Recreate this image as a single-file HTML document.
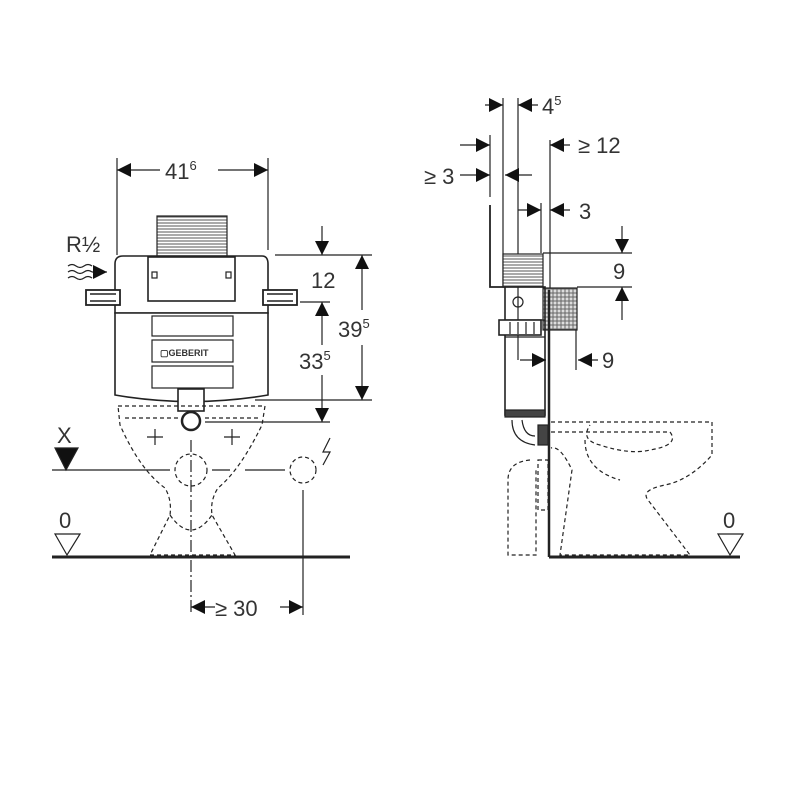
<!DOCTYPE html>
<html><head><meta charset="utf-8"><style>
body{margin:0;background:#fff}
svg{display:block}
text{font-family:"Liberation Sans",sans-serif;fill:#333;font-size:22px}
.s{font-size:13px}
</style></head><body>
<svg width="800" height="800" viewBox="0 0 800 800" xmlns="http://www.w3.org/2000/svg">
<defs>
<marker id="a" viewBox="0 0 10 10" refX="10" refY="5" markerWidth="16" markerHeight="14" markerUnits="userSpaceOnUse" orient="auto"><path d="M0,0L10,5L0,10z" fill="#111"/></marker>
<pattern id="h" width="4" height="3" patternUnits="userSpaceOnUse"><rect width="4" height="3" fill="#fff"/><line x1="0" y1="1" x2="4" y2="1" stroke="#555" stroke-width="1"/></pattern>
<pattern id="x" width="4" height="4" patternUnits="userSpaceOnUse"><rect width="4" height="4" fill="#ddd"/><path d="M0,1H4M1,0V4" stroke="#666" stroke-width="1"/></pattern>
</defs>
<g fill="none" stroke="#222" stroke-width="1.2">
<line x1="117" y1="158" x2="117" y2="255"/><line x1="268" y1="158" x2="268" y2="250"/>
<line x1="160" y1="170" x2="117" y2="170" marker-end="url(#a)"/><line x1="218" y1="170" x2="268" y2="170" marker-end="url(#a)"/>
<rect x="157" y="216" width="70" height="40" fill="url(#h)"/>
<path d="M123,256H262Q268,256 268,264V313H115V264Q115,256 123,256Z" fill="#fff" stroke-width="1.6"/>
<rect x="148" y="257" width="87" height="44" fill="#fff" stroke-width="1.6"/>
<rect x="152" y="272" width="5" height="6"/><rect x="226" y="272" width="5" height="6"/>
<rect x="86" y="290" width="34" height="15" fill="#fff" stroke-width="1.8"/><rect x="263" y="290" width="34" height="15" fill="#fff" stroke-width="1.8"/>
<path d="M90,294H116M90,301H116M267,294H293M267,301H293" stroke-width="1.6"/>
<path d="M115,313H268V395Q191,408 115,395Z" fill="#fff" stroke-width="1.6"/>
<rect x="152" y="316" width="81" height="20"/><rect x="152" y="340" width="81" height="22"/><rect x="152" y="366" width="81" height="22"/>
<rect x="178" y="389" width="26" height="22" fill="#fff" stroke-width="1.6"/>
<circle cx="191" cy="421" r="9" stroke-width="2.5"/>
<line x1="275" y1="255" x2="372" y2="255"/><line x1="300" y1="302" x2="330" y2="302"/>
<line x1="255" y1="400" x2="372" y2="400"/><line x1="205" y1="422" x2="330" y2="422"/>
<line x1="322" y1="226" x2="322" y2="255" marker-end="url(#a)"/>
<line x1="322" y1="345" x2="322" y2="302" marker-end="url(#a)"/>
<line x1="322" y1="375" x2="322" y2="422" marker-end="url(#a)"/>
<line x1="362" y1="310" x2="362" y2="255" marker-end="url(#a)"/>
<line x1="362" y1="345" x2="362" y2="400" marker-end="url(#a)"/>
<g stroke-dasharray="4,3">
<path d="M118,406H265L262,425Q240,470 218,488Q210,500 212,515L235,555H150L170,515Q172,500 165,488Q140,470 120,425Z"/>
<path d="M125,418H180M205,418H258"/>
<path d="M170,515Q191,545 212,515"/>
<circle cx="191" cy="470" r="16"/>
<circle cx="303" cy="470" r="13"/>
</g>
<path d="M147,437H163M155,429V445M224,437H240M232,429V445"/>
<line x1="52" y1="470" x2="170" y2="470"/><line x1="212" y1="470" x2="230" y2="470"/><line x1="245" y1="470" x2="285" y2="470"/>
<line x1="191" y1="440" x2="191" y2="615" stroke-dasharray="12,3,2,3"/>
<line x1="303" y1="490" x2="303" y2="615"/>
<path d="M330,438L323,452H330L323,465" />
<line x1="215" y1="607" x2="191" y2="607" marker-end="url(#a)"/><line x1="280" y1="607" x2="303" y2="607" marker-end="url(#a)"/>
<line x1="52" y1="557" x2="350" y2="557" stroke-width="3"/>
<path d="M55,534H80L67,555Z"/>
<path d="M55,448H78L66,470Z" fill="#111"/>
<path d="M68,266q4,-3 8,0t8,0t8,0M68,272q4,-3 8,0t8,0t8,0M68,278q4,-3 8,0t8,0t8,0"/>
<line x1="92" y1="272" x2="107" y2="272" marker-end="url(#a)"/>
<line x1="503" y1="98" x2="503" y2="287"/><line x1="518" y1="98" x2="518" y2="360"/>
<line x1="485" y1="105" x2="503" y2="105" marker-end="url(#a)"/><line x1="538" y1="105" x2="518" y2="105" marker-end="url(#a)"/>
<line x1="490" y1="135" x2="490" y2="197"/>
<line x1="460" y1="145" x2="490" y2="145" marker-end="url(#a)"/><line x1="460" y1="175" x2="490" y2="175" marker-end="url(#a)"/>
<line x1="532" y1="175" x2="505" y2="175" marker-end="url(#a)"/>
<path d="M490,205V287H505" stroke-width="1.8"/>
<line x1="550" y1="140" x2="550" y2="290"/>
<line x1="570" y1="145" x2="550" y2="145" marker-end="url(#a)"/>
<line x1="541" y1="203" x2="541" y2="253"/>
<line x1="518" y1="210" x2="541" y2="210" marker-end="url(#a)"/><line x1="570" y1="210" x2="550" y2="210" marker-end="url(#a)"/>
<rect x="503" y="254" width="40" height="33" fill="url(#h)"/>
<rect x="543" y="288" width="34" height="42" fill="url(#x)"/>
<rect x="505" y="287" width="40" height="128" fill="none" stroke-width="1.6"/>
<line x1="505" y1="320" x2="545" y2="320"/><line x1="505" y1="337" x2="545" y2="337"/>
<rect x="499" y="320" width="42" height="15" fill="#fff" stroke-width="1.6"/><path d="M510,322V334M518,322V334M526,322V334M534,322V334"/>
<circle cx="518" cy="302" r="5"/>
<rect x="505" y="410" width="40" height="7" fill="#444"/>
<path d="M512,420Q512,442 535,445M522,420Q524,436 535,436"/>
<rect x="538" y="425" width="10" height="20" fill="#444"/>
<line x1="543" y1="253" x2="632" y2="253"/><line x1="577" y1="287" x2="632" y2="287"/>
<line x1="622" y1="226" x2="622" y2="253" marker-end="url(#a)"/><line x1="622" y1="320" x2="622" y2="287" marker-end="url(#a)"/>
<line x1="576" y1="330" x2="576" y2="370"/>
<line x1="598" y1="360" x2="578" y2="360" marker-end="url(#a)"/>
<line x1="520" y1="360" x2="546" y2="360" marker-end="url(#a)"/>
<line x1="549" y1="290" x2="549" y2="557" stroke-width="2.5"/>
<line x1="549" y1="557" x2="740" y2="557" stroke-width="3"/>
<g stroke-dasharray="4,3">
<path d="M551,422H712V455Q690,480 665,485Q640,490 648,500L690,555H560L572,470Q560,445 551,448"/>
<path d="M551,432H670Q680,445 650,450Q630,455 600,445Q580,440 590,425"/>
<path d="M585,440Q585,470 620,480"/>
<path d="M530,460Q508,462 508,480V555H536V470"/>
<rect x="538" y="460" width="10" height="50"/>
</g>
<path d="M718,534H743L730,555Z"/>
</g>
<text x="165" y="179">41<tspan class="s" dy="-9">6</tspan></text>
<text x="66" y="252">R½</text>
<text x="311" y="288">12</text>
<text x="338" y="337">39<tspan class="s" dy="-9">5</tspan></text>
<text x="299" y="369">33<tspan class="s" dy="-9">5</tspan></text>
<text x="57" y="443">X</text>
<text x="59" y="528">0</text>
<text x="215" y="616">≥ 30</text>
<text x="542" y="114">4<tspan class="s" dy="-9">5</tspan></text>
<text x="578" y="153">≥ 12</text>
<text x="424" y="184">≥ 3</text>
<text x="579" y="219">3</text>
<text x="613" y="279">9</text>
<text x="602" y="368">9</text>
<text x="723" y="528">0</text>
<text x="160" y="356" style="font-size:9px;font-weight:bold">▢GEBERIT</text>
</svg>
</body></html>
